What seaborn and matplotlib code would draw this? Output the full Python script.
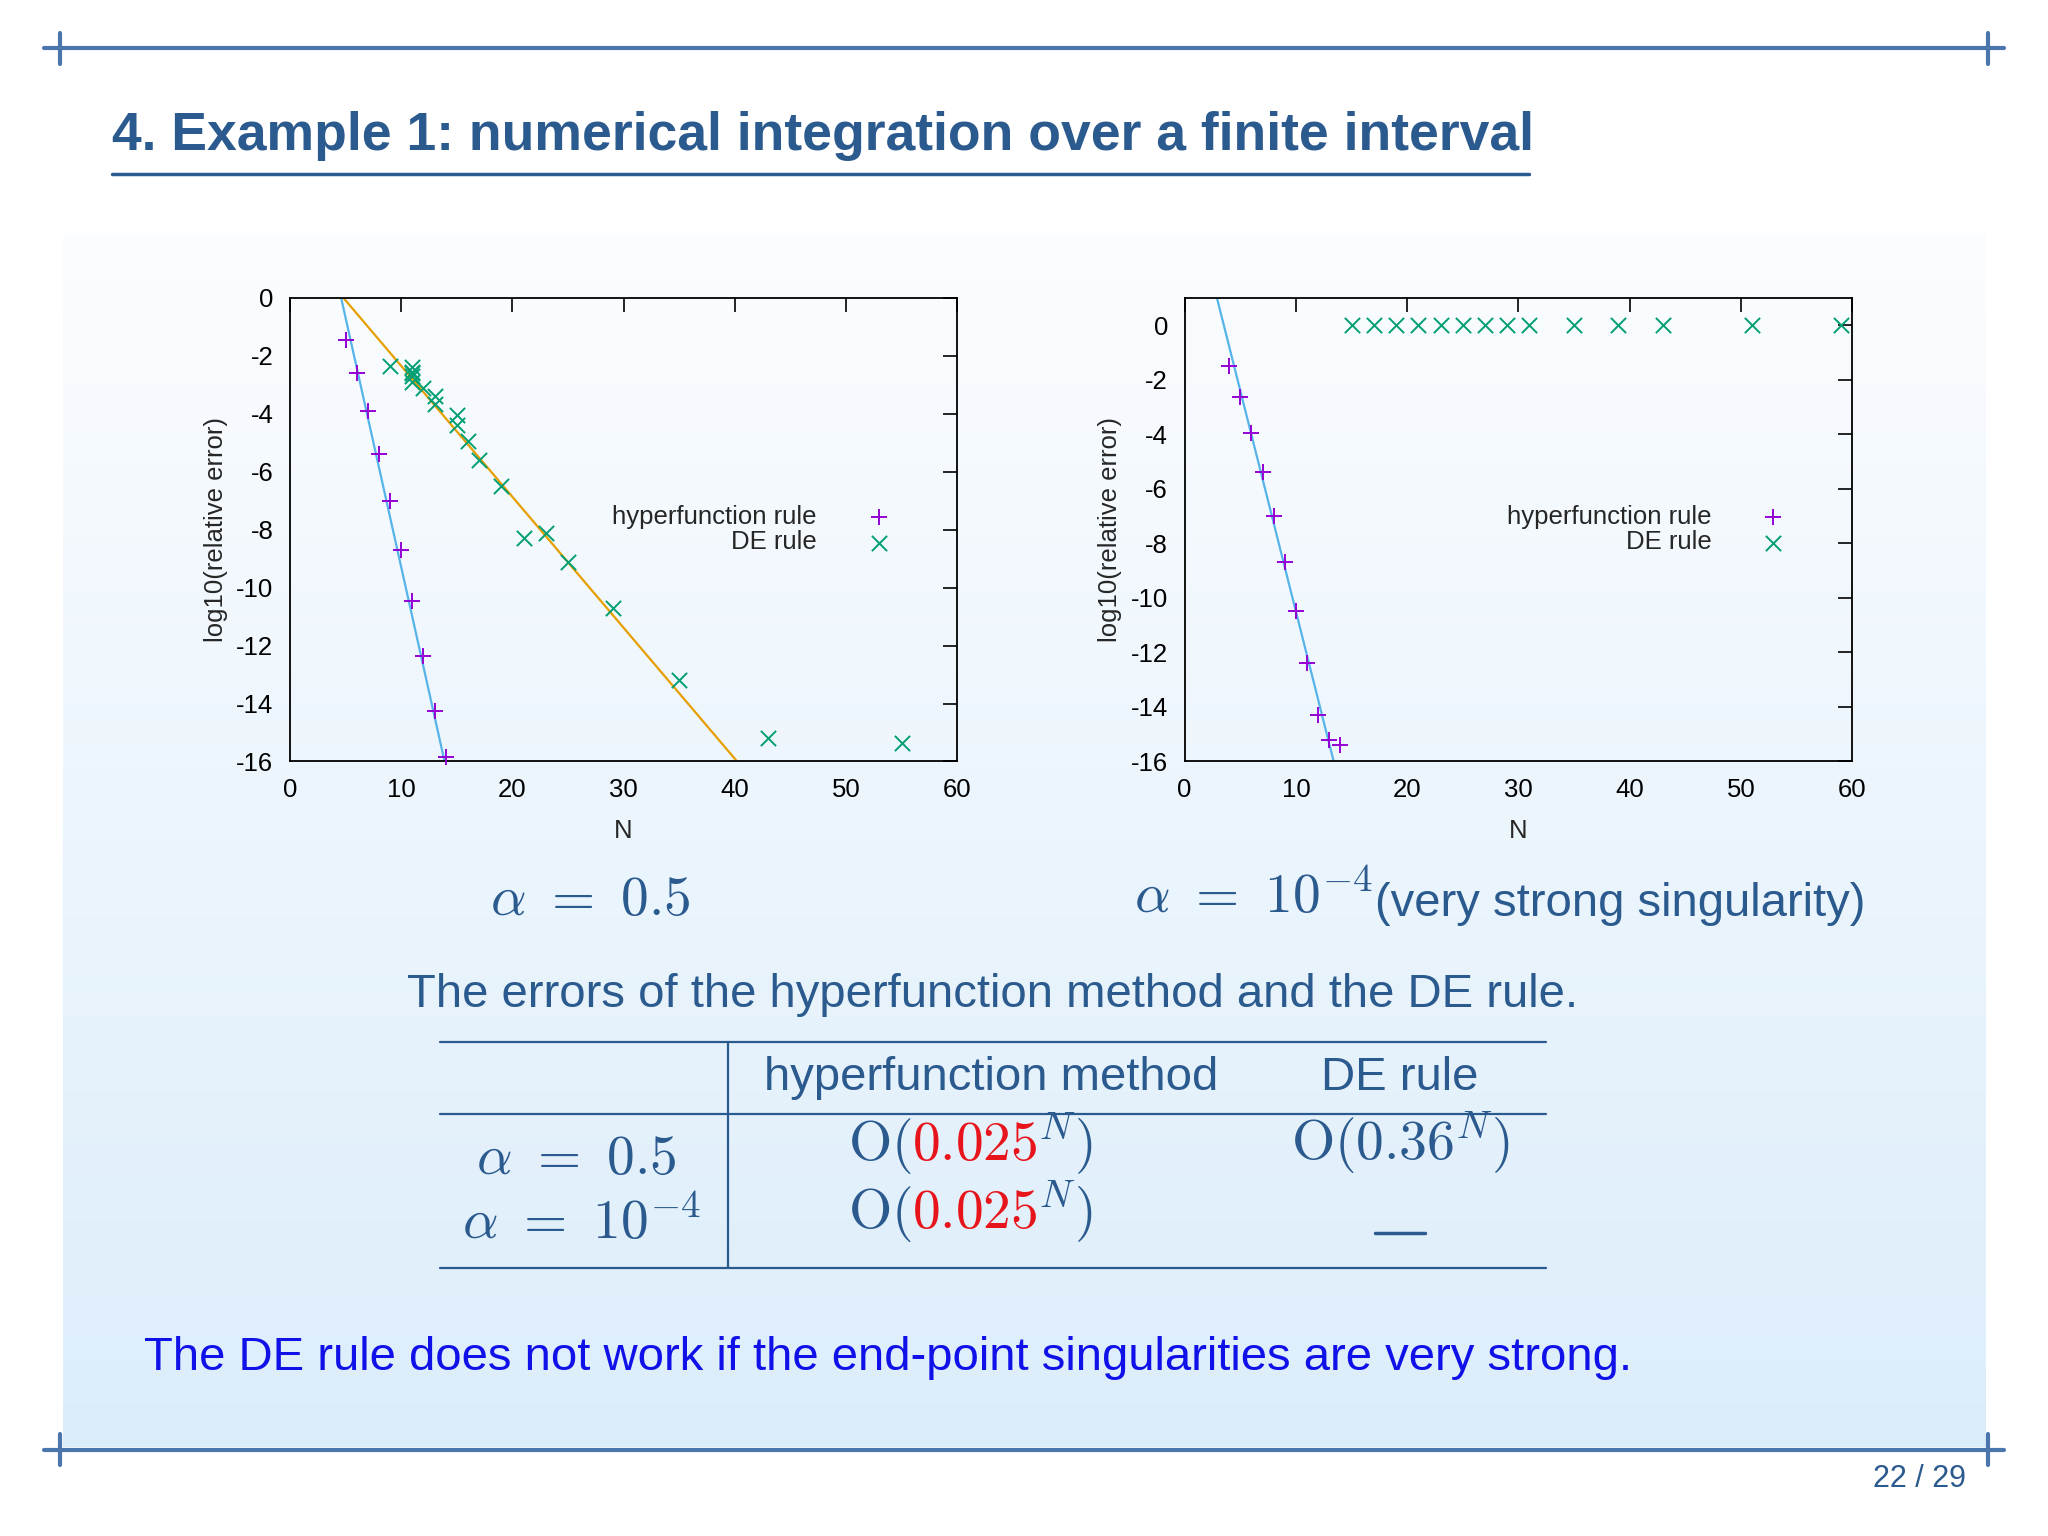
import matplotlib
matplotlib.use("Agg")
import matplotlib.pyplot as plt
import numpy as np
import pandas as pd
import seaborn as sns

sns.set_style("white")
plt.rcParams["font.family"] = ["Liberation Sans", "DejaVu Sans"]
plt.rcParams["mathtext.fontset"] = "cm"
plt.rcParams["axes.unicode_minus"] = False

# ---------------------------------------------------------------------------
# Data
# ---------------------------------------------------------------------------
hyp1_n = [5, 6, 7, 8, 9, 10, 11, 12, 13, 14]
hyp1_err = [-1.45, -2.6, -3.9, -5.4, -7.0, -8.7, -10.45, -12.35, -14.25, -15.85]
de1_n = [9, 11, 11, 11, 11, 11, 12, 13, 13, 15, 15, 16, 17, 19, 21, 23, 25, 29, 35, 43, 55]
de1_err = [-2.35, -2.4, -2.55, -2.7, -2.9, -2.6, -3.1, -3.4, -3.65, -4.05, -4.4, -4.95,
           -5.6, -6.5, -8.3, -8.1, -9.1, -10.7, -13.2, -15.2, -15.35]
fit1_hyp_n, fit1_hyp_y = [4.6, 13.9], [0.0, -16.0]
fit1_de_n, fit1_de_y = [4.8, 40.2], [0.0, -16.0]

hyp2_n = [4, 5, 6, 7, 8, 9, 10, 11, 12, 13, 14]
hyp2_err = [-1.5, -2.65, -3.95, -5.4, -7.0, -8.7, -10.5, -12.4, -14.3, -15.2, -15.4]
de2_n = [15, 17, 19, 21, 23, 25, 27, 29, 31, 35, 39, 43, 51, 59]
de2_err = [0.0] * len(de2_n)
fit2_hyp_n, fit2_hyp_y = [2.9, 13.4], [1.0, -16.0]

PURPLE = "#9400d3"
GREEN = "#009e73"
SKY = "#56b4e9"
ORANGE = "#e69f00"
NAVY = "#2b5a8e"
RULE = "#4a76ad"

W, H = 1568.0, 1176.0


def fx(x):
    return x / W


def fy(y):
    return 1 - y / H


fig = plt.figure(figsize=(20.48, 15.36), dpi=100)
renderer = fig.canvas.get_renderer()

# background gradient box
bg = fig.add_axes([0, 0, 1, 1], zorder=-5)
bg.set_xlim(0, W)
bg.set_ylim(H, 0)
bg.axis("off")
grad = np.linspace(0, 1, 256)[:, None]
cmap = matplotlib.colors.LinearSegmentedColormap.from_list("g", ["#fbfdff", "#dcedfa"])
bg.imshow(grad, cmap=cmap, extent=[48, 1520, 1108, 180], aspect="auto")

# slide rules
for yy in (37, 1110):
    bg.plot([34, 1534], [yy, yy], color=RULE, lw=3)
    for xx in (46, 1522):
        bg.plot([xx, xx], [yy - 12, yy + 12], color=RULE, lw=3)
bg.plot([86, 1171], [133, 133], color=NAVY, lw=2.5)

fig.text(fx(86), fy(104), "4. Example 1: numerical integration over a finite interval",
         fontsize=38.5, fontweight="bold", color=NAVY, va="center", ha="left")
fig.text(fx(1505), fy(1132), "22 / 29", fontsize=22, color=NAVY, ha="right", va="center")


def style_axis(ax, ylim, yticks):
    ax.set_facecolor("none")
    ax.set_xlim(0, 60)
    ax.set_ylim(*ylim)
    ax.set_xticks(range(0, 61, 10))
    ax.set_yticks(yticks)
    ax.tick_params(direction="in", top=True, right=True, length=10, width=1.2,
                   labelsize=18.5, pad=12, colors="black")
    for s in ax.spines.values():
        s.set_edgecolor("black")
        s.set_linewidth(1.3)
    ax.set_xlabel("N", fontsize=18.5, labelpad=12)
    ax.set_ylabel("log10(relative error)", fontsize=18.5, labelpad=6)
    ax.grid(False)


def draw_points(ax, hn, he, dn, de):
    hdf = pd.DataFrame({"N": hn, "err": he})
    ddf = pd.DataFrame({"N": dn, "err": de})
    sns.scatterplot(data=hdf, x="N", y="err", marker="+", color=PURPLE, s=120,
                    linewidth=1.4, ax=ax, label="hyperfunction rule", zorder=4, clip_on=False)
    sns.scatterplot(data=ddf, x="N", y="err", marker="x", color=GREEN, s=120,
                    linewidth=1.4, ax=ax, label="DE rule", zorder=4, clip_on=False)
    ax.legend(loc="center right", bbox_to_anchor=(0.955, 0.5), frameon=False,
              markerfirst=False, fontsize=18.5, handletextpad=1.4, labelspacing=0.05,
              alignment="right")


ax1 = fig.add_axes([fx(222), fy(583), fx(733) - fx(222), fy(228) - fy(583)])
sns.lineplot(x=fit1_hyp_n, y=fit1_hyp_y, color=SKY, lw=1.6, ax=ax1)
sns.lineplot(x=fit1_de_n, y=fit1_de_y, color=ORANGE, lw=1.6, ax=ax1)
draw_points(ax1, hyp1_n, hyp1_err, de1_n, de1_err)
style_axis(ax1, (-16, 0), range(-16, 1, 2))

ax2 = fig.add_axes([fx(907), fy(583), fx(1418) - fx(907), fy(228) - fy(583)])
sns.lineplot(x=fit2_hyp_n, y=fit2_hyp_y, color=SKY, lw=1.6, ax=ax2)
draw_points(ax2, hyp2_n, hyp2_err, de2_n, de2_err)
style_axis(ax2, (-16, 1), range(-16, 1, 2))

MATH = 40
BODY = 34

# captions
fig.text(fx(452), fy(690), r"$\alpha\ =\ 0.5$", fontsize=MATH, color=NAVY, ha="center", va="center")
fig.text(fx(868), fy(688), r"$\alpha\ =\ 10^{-4}$", fontsize=MATH, color=NAVY, ha="left", va="center")
fig.text(fx(1053), fy(692), "(very strong singularity)", fontsize=BODY, color=NAVY,
         ha="left", va="center")
fig.text(fx(760), fy(762), "The errors of the hyperfunction method and the DE rule.",
         fontsize=BODY, color=NAVY, ha="center", va="center")

# table
for yy in (798, 853, 971):
    bg.plot([337, 1184], [yy, yy], color=NAVY, lw=1.6)
bg.plot([557, 557], [798, 971], color=NAVY, lw=1.6)
fig.text(fx(759), fy(825), "hyperfunction method", fontsize=BODY, color=NAVY, ha="center", va="center")
fig.text(fx(1072), fy(825), "DE rule", fontsize=BODY, color=NAVY, ha="center", va="center")
fig.text(fx(441), fy(888), r"$\alpha\ =\ 0.5$", fontsize=MATH, color=NAVY, ha="center", va="center")
fig.text(fx(445), fy(938), r"$\alpha\ =\ 10^{-4}$", fontsize=MATH, color=NAVY, ha="center", va="center")
for yy in (888, 940):
    fig.text(fx(698), fy(yy), r"$\mathrm{O}($", fontsize=MATH, color=NAVY, ha="right", va="baseline")
    red = fig.text(fx(698), fy(yy), r"$0.025$", fontsize=MATH, color="#e8141b", ha="left",
                   va="baseline")
    bb = red.get_window_extent(renderer=renderer)
    x_end = bb.x1 / fig.bbox.width
    fig.text(x_end, fy(yy), r"$^{N})$", fontsize=MATH, color=NAVY, ha="left", va="baseline")
fig.text(fx(1072), fy(888), r"$\mathrm{O}(0.36^{N})$", fontsize=MATH, color=NAVY,
         ha="center", va="baseline")
bg.plot([1053, 1091], [944, 944], color=NAVY, lw=2.5)

fig.text(fx(110), fy(1040), "The DE rule does not work if the end-point singularities are very strong.",
         fontsize=BODY, color="#1010e8", ha="left", va="center")

fig.savefig("out.png", dpi=100)
